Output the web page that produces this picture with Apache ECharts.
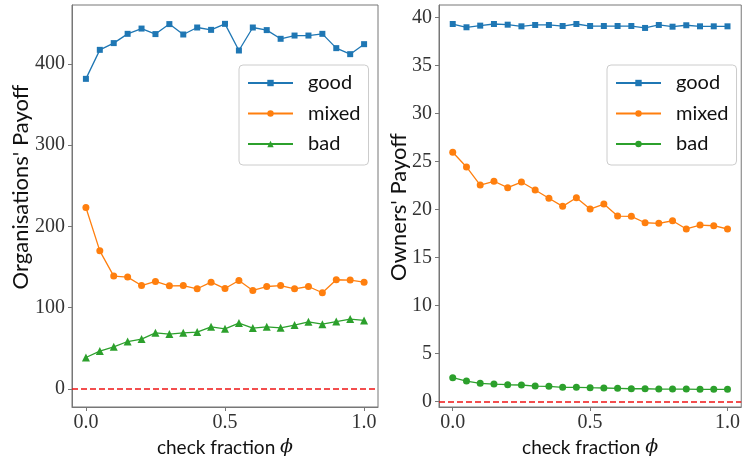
<!DOCTYPE html>
<html><head><meta charset="utf-8">
<script src="https://cdn.jsdelivr.net/npm/echarts@6/dist/echarts.min.js"></script>
<style>html,body{margin:0;padding:0;background:#fff}#c{width:743px;height:462px}</style>
</head><body><div id="c"></div>
<script>
const checkFraction = [0,0.05,0.1,0.15,0.2,0.25,0.3,0.35,0.4,0.45,0.5,0.55,0.6,0.65,0.7,0.75,0.8,0.85,0.9,0.95,1.0];
const orgGood  = [381.5,417.2,425.5,436.9,443.4,436.6,448.9,436.1,444.7,441.8,449.2,416.4,444.7,441.5,430.8,434.8,434.8,436.9,419.3,411.9,424.2];
const orgMixed = [223.1,169.8,138.7,137.5,127.1,132.1,126.8,127.1,123.1,131.3,123.4,133.3,121.0,125.9,127.1,123.1,125.9,118.2,134.2,133.8,131.3];
const orgBad   = [38.5,46.4,51.7,58.2,61.2,68.9,67.3,68.9,69.8,76.3,73.8,80.9,74.7,76.3,75.1,78.4,82.5,79.6,82.8,85.8,84.1];
const ownGood  = [39.30,38.96,39.13,39.30,39.23,39.06,39.20,39.20,39.09,39.30,39.09,39.09,39.09,39.09,38.89,39.20,39.02,39.17,39.06,39.06,39.06];
const ownMixed = [25.94,24.41,22.53,22.92,22.25,22.84,22.01,21.15,20.31,21.21,20.03,20.55,19.30,19.27,18.60,18.54,18.81,17.95,18.36,18.29,17.95];
const ownBad   = [2.46,2.11,1.88,1.80,1.73,1.70,1.59,1.56,1.46,1.46,1.42,1.39,1.35,1.31,1.31,1.28,1.28,1.28,1.25,1.25,1.25];
const xTicks = [0, 0.5, 1.0];
const orgTicks = [0, 100, 200, 300, 400];
const ownTicks = [0, 5, 10, 15, 20, 25, 30, 35, 40];
const seriesNames = ['good', 'mixed', 'bad'];
const leftTitle = "Organisations' Payoff";
const rightTitle = "Owners' Payoff";

const colors = ['#1f77b4', '#ff7f0e', '#2ca02c'];
const pairs = ys => checkFraction.map((x, i) => [x, ys[i]]);
const SERIF = "'Liberation Serif', 'DejaVu Serif', serif";
const SANS = "Lato, 'Open Sans', sans-serif";
const AX = '#777';

function xAxis(gi) {
  return {
    type: 'value', gridIndex: gi, min: -0.05, max: 1.05,
    name: '{a|check fraction }{b|\u03D5}', nameLocation: 'middle', nameGap: 28,
    nameTextStyle: { rich: {
      a: { fontFamily: SANS, fontSize: 19, color: '#111' },
      b: { fontFamily: "'DejaVu Serif', serif", fontStyle: 'italic', fontSize: 19, color: '#111' }
    } },
    axisLine: { show: true, onZero: false, lineStyle: { color: AX, width: 1 } },
    axisTick: { show: true, length: 4, lineStyle: { color: AX }, customValues: xTicks },
    axisLabel: { customValues: xTicks, margin: 6, fontFamily: SERIF, fontSize: 20, color: '#333',
      formatter: v => v.toFixed(1) },
    splitLine: { show: false }
  };
}
function yAxis(gi, min, max, ticks) {
  return {
    type: 'value', gridIndex: gi, min: min, max: max,
    axisLine: { show: true, onZero: false, lineStyle: { color: AX, width: 1 } },
    axisTick: { show: true, length: 4, lineStyle: { color: AX }, customValues: ticks },
    axisLabel: { customValues: ticks, margin: 7, fontFamily: SERIF, fontSize: 20, color: '#333' },
    splitLine: { show: false }
  };
}
const symbolsLeft = ['rect', 'circle', 'triangle'];
const symbolsRight = ['rect', 'circle', 'circle'];
const sizes = { rect: 6, circle: 7, triangle: 8 };
function mk(prefix, name, i, data, gi, sym) {
  return {
    name: prefix + name, type: 'line', xAxisIndex: gi, yAxisIndex: gi,
    data: pairs(data), symbol: sym, symbolSize: sizes[sym], showSymbol: true,
    lineStyle: { color: colors[i], width: 1.3 }, itemStyle: { color: colors[i] },
    animation: false, z: 3
  };
}
const zeroLine = gi => ({
  name: 'zero' + gi, type: 'line', xAxisIndex: gi, yAxisIndex: gi, data: [],
  markLine: { silent: true, symbol: 'none', label: { show: false }, animation: false,
    lineStyle: { color: '#f01515', type: [6, 3], width: 1.7 }, data: [{ yAxis: 0 }] }
});
function legend(left, prefix) {
  return {
    orient: 'vertical', left: left, top: 65,
    data: seriesNames.map(n => prefix + n),
    formatter: n => n.slice(prefix.length),
    itemWidth: 45, itemHeight: 8, itemGap: 10.5, itemTextGap: 17,
    padding: [8, 8, 11, 8],
    backgroundColor: 'rgba(255,255,255,0.85)', borderColor: '#cccccc', borderWidth: 1, borderRadius: 4,
    textStyle: { fontFamily: SANS, fontSize: 20, color: '#111', width: 48, lineHeight: 20, padding: [0, 0, 0, 10] }
  };
}

const chart = echarts.init(document.getElementById('c'));
chart.setOption({
  animation: false,
  grid: [
    { left: 72, top: 5, width: 306, height: 402, show: true, borderColor: AX, borderWidth: 1 },
    { left: 439, top: 5, width: 306, height: 402, show: true, borderColor: AX, borderWidth: 1 }
  ],
  xAxis: [xAxis(0), xAxis(1)],
  yAxis: [yAxis(0, -22.4, 472.4, orgTicks), yAxis(1, -0.59, 41.28, ownTicks)],
  legend: [legend(239, 'Org '), legend(607, 'Own ')],
  series: [
    zeroLine(0), zeroLine(1),
    mk('Org ', 'good', 0, orgGood, 0, symbolsLeft[0]),
    mk('Org ', 'mixed', 1, orgMixed, 0, symbolsLeft[1]),
    mk('Org ', 'bad', 2, orgBad, 0, symbolsLeft[2]),
    mk('Own ', 'good', 0, ownGood, 1, symbolsRight[0]),
    mk('Own ', 'mixed', 1, ownMixed, 1, symbolsRight[1]),
    mk('Own ', 'bad', 2, ownBad, 1, symbolsRight[2])
  ],
  graphic: [
    { type: 'text', x: 21, y: 187, rotation: Math.PI / 2,
      style: { text: leftTitle, font: "22px " + SANS, fill: '#111', align: 'center', verticalAlign: 'middle' } },
    { type: 'text', x: 399, y: 207, rotation: Math.PI / 2,
      style: { text: rightTitle, font: "22px " + SANS, fill: '#111', align: 'center', verticalAlign: 'middle' } }
  ]
});
</script></body></html>
